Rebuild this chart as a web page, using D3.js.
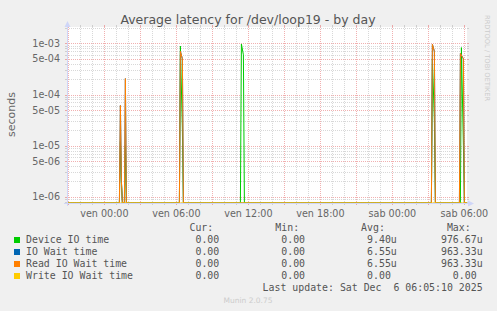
<!DOCTYPE html>
<html>
<head>
<meta charset="utf-8">
<script src="https://cdn.jsdelivr.net/npm/d3@7"></script>
<style>
  body { margin: 0; background: #f0f0f0; }
  svg { display: block; font-family: "DejaVu Sans", sans-serif; }
  .mono { font-family: "DejaVu Sans Mono", monospace; font-size: 9.9px; fill: #555; }
</style>
</head>
<body>
<svg id="chart" width="497" height="311"></svg>
<script>
// series, in munin draw order
var seriesNames = ["Device IO time", "IO Wait time", "Read IO Wait time", "Write IO Wait time"];
var seriesColors = ["#00cc00", "#0066b3", "#ff8000", "#ffcc00"];

var deviceIO = [
  ["2025-12-04 20:53", 0],
  ["2025-12-05 01:15", 0], ["2025-12-05 01:20", 1.2e-5], ["2025-12-05 01:25", 2e-6], ["2025-12-05 01:30", 0],
  ["2025-12-05 01:40", 0], ["2025-12-05 01:45", 1.0e-5], ["2025-12-05 01:50", 0],
  ["2025-12-05 06:15", 0], ["2025-12-05 06:20", 8.9e-4], ["2025-12-05 06:30", 2e-5], ["2025-12-05 06:35", 0],
  ["2025-12-05 11:20", 0], ["2025-12-05 11:25", 9.7667e-4], ["2025-12-05 11:35", 6e-4], ["2025-12-05 11:40", 0],
  ["2025-12-06 03:15", 0], ["2025-12-06 03:20", 5e-4], ["2025-12-06 03:30", 3e-5], ["2025-12-06 03:35", 0],
  ["2025-12-06 05:40", 0], ["2025-12-06 05:45", 8.3e-4], ["2025-12-06 05:55", 1e-5], ["2025-12-06 06:00", 0],
  ["2025-12-06 06:13", 0]
];
var ioWait = [
  ["2025-12-04 20:53", 0],
  ["2025-12-05 01:15", 0], ["2025-12-05 01:20", 6.1e-5], ["2025-12-05 01:25", 2e-6], ["2025-12-05 01:30", 0],
  ["2025-12-05 01:40", 0], ["2025-12-05 01:45", 2.05e-4], ["2025-12-05 01:50", 0],
  ["2025-12-05 06:15", 0], ["2025-12-05 06:20", 7.0e-4], ["2025-12-05 06:30", 5e-4], ["2025-12-05 06:35", 0],
  ["2025-12-06 03:15", 0], ["2025-12-06 03:20", 9.6333e-4], ["2025-12-06 03:30", 7e-4], ["2025-12-06 03:35", 0],
  ["2025-12-06 05:35", 0], ["2025-12-06 05:40", 6.4e-4], ["2025-12-06 05:55", 5e-4], ["2025-12-06 06:00", 0],
  ["2025-12-06 06:13", 0]
];
var readWait = [
  ["2025-12-04 20:53", 0],
  ["2025-12-05 01:15", 0], ["2025-12-05 01:20", 6.1e-5], ["2025-12-05 01:25", 2e-6], ["2025-12-05 01:30", 0],
  ["2025-12-05 01:40", 0], ["2025-12-05 01:45", 2.05e-4], ["2025-12-05 01:50", 0],
  ["2025-12-05 06:15", 0], ["2025-12-05 06:20", 7.0e-4], ["2025-12-05 06:30", 5e-4], ["2025-12-05 06:35", 0],
  ["2025-12-06 03:15", 0], ["2025-12-06 03:20", 9.6333e-4], ["2025-12-06 03:30", 7e-4], ["2025-12-06 03:35", 0],
  ["2025-12-06 05:35", 0], ["2025-12-06 05:40", 6.4e-4], ["2025-12-06 05:55", 5e-4], ["2025-12-06 06:00", 0],
  ["2025-12-06 06:13", 0]
];
var writeWait = [
  ["2025-12-04 20:53", 0],
  ["2025-12-06 06:13", 0]
];

var curValues = ["0.00 ", "0.00 ", "0.00 ", "0.00 "];
var minValues = ["0.00 ", "0.00 ", "0.00 ", "0.00 "];
var avgValues = ["9.40u", "6.55u", "6.55u", "0.00 "];
var maxValues = ["976.67u", "963.33u", "963.33u", "0.00 "];
var legendHeaders = ["Cur:", "Min:", "Avg:", "Max:"];

var yTickValues = [1e-3, 5e-4, 1e-4, 5e-5, 1e-5, 5e-6, 1e-6];
var yTickLabels = ["1e-03", "5e-04", "1e-04", "5e-05", "1e-05", "5e-06", "1e-06"];
var xTickTimes = ["2025-12-05 00:00", "2025-12-05 06:00", "2025-12-05 12:00",
                  "2025-12-05 18:00", "2025-12-06 00:00", "2025-12-06 06:00"];
var xTickLabels = ["ven 00:00", "ven 06:00", "ven 12:00", "ven 18:00", "sab 00:00", "sab 06:00"];

var parse = d3.timeParse("%Y-%m-%d %H:%M");
var nbsp = function (s) { return s.replace(/ /g, "\u00a0"); };
var svg = d3.select("#chart");
var plotLeft = 67, plotRight = 467, plotTop = 27, plotBottom = 203;

var x = d3.scaleTime()
  .domain([parse("2025-12-04 20:53"), parse("2025-12-06 06:13")])
  .range([plotLeft, plotRight]);
var yMin = 7.53e-7, yMax = 2.1e-3;
var y = d3.scaleLog().domain([yMin, yMax]).range([plotBottom, plotTop]).clamp(true);

svg.append("rect").attr("x", plotLeft).attr("y", plotTop)
  .attr("width", plotRight - plotLeft).attr("height", plotBottom - plotTop).attr("fill", "#fff");

// grid
var gridGray = "rgba(143,143,143,0.35)", gridRed = "rgba(224,80,80,0.45)";
var grid = svg.append("g").attr("shape-rendering", "crispEdges");
x.ticks(d3.timeHour.every(1)).forEach(function (t) {
  var major = t.getHours() % 3 === 0;
  var xx = Math.round(x(t)) + 0.5;
  var col = major ? gridRed : gridGray;
  grid.append("line").attr("x1", xx).attr("x2", xx).attr("y1", plotTop).attr("y2", plotBottom)
    .attr("stroke", col).attr("stroke-dasharray", "1,1");
  grid.append("line").attr("x1", xx).attr("x2", xx).attr("y1", plotTop - 2).attr("y2", plotTop).attr("stroke", col);
  grid.append("line").attr("x1", xx).attr("x2", xx).attr("y1", plotBottom).attr("y2", plotBottom + 2).attr("stroke", col);
});
for (var e = -7; e <= -3; e++) {
  for (var m = 1; m <= 9; m++) {
    var v = m * Math.pow(10, e);
    if (v < yMin || v > yMax) continue;
    var major = (m === 1 || m === 5);
    var yy = Math.round(y(v)) + 0.5;
    var col = major ? gridRed : gridGray;
    grid.append("line").attr("x1", plotLeft).attr("x2", plotRight).attr("y1", yy).attr("y2", yy)
      .attr("stroke", col).attr("stroke-dasharray", "1,1");
    grid.append("line").attr("x1", plotLeft - 2).attr("x2", plotLeft).attr("y1", yy).attr("y2", yy).attr("stroke", col);
    grid.append("line").attr("x1", plotRight).attr("x2", plotRight + 2).attr("y1", yy).attr("y2", yy).attr("stroke", col);
  }
}

// series lines
var line = d3.line()
  .x(function (d) { return x(parse(d[0])); })
  .y(function (d) { return y(Math.max(d[1], yMin)); });
[deviceIO, ioWait, readWait, writeWait].forEach(function (data, i) {
  svg.append("path").datum(data).attr("d", line)
    .attr("fill", "none").attr("stroke", seriesColors[i]).attr("stroke-width", 1);
});

// axes with arrows
var axisCol = "#cfd6f8";
svg.append("line").attr("x1", plotLeft - 3).attr("x2", plotRight + 3)
  .attr("y1", plotBottom + 0.5).attr("y2", plotBottom + 0.5).attr("stroke", axisCol);
svg.append("line").attr("x1", plotLeft + 0.5).attr("x2", plotLeft + 0.5)
  .attr("y1", plotBottom + 3).attr("y2", plotTop - 3).attr("stroke", axisCol);
svg.append("path").attr("d", "M" + (plotRight + 7) + "," + (plotBottom + 0.5) + "l-6,-3l0,6z").attr("fill", axisCol);
svg.append("path").attr("d", "M" + (plotLeft + 0.5) + "," + (plotTop - 6) + "l-3,6l6,0z").attr("fill", axisCol);

// tick labels
svg.append("g").selectAll("text").data(yTickValues).join("text")
  .attr("x", 60).attr("y", function (d) { return y(d); }).attr("dy", "0.38em")
  .attr("text-anchor", "end").attr("font-size", 9.6).attr("fill", "#666")
  .text(function (d, i) { return yTickLabels[i]; });
svg.append("g").selectAll("text").data(xTickTimes).join("text")
  .attr("x", function (d) { return x(parse(d)); }).attr("y", 216.7)
  .attr("text-anchor", "middle").attr("font-size", 9.6).attr("fill", "#666")
  .text(function (d, i) { return xTickLabels[i]; });

// titles
svg.append("text").attr("x", 248).attr("y", 24).attr("text-anchor", "middle")
  .attr("font-size", 12.5).attr("fill", "#555").text("Average latency for /dev/loop19 - by day");
svg.append("text").attr("transform", "translate(15,114.5) rotate(-90)").attr("text-anchor", "middle")
  .attr("font-size", 11).attr("fill", "#666").text("seconds");
svg.append("text").attr("transform", "translate(485,15) rotate(90)")
  .attr("font-size", 6.7).attr("fill", "#ccc").text("RRDTOOL / TOBI OETIKER");

// legend
var cw = 5.96;
var colEnd = [225.2, 311.0, 396.8, 482.6];
var columns = [curValues, minValues, avgValues, maxValues];
var legend = svg.append("g").attr("class", "mono");
legendHeaders.forEach(function (h, c) {
  legend.append("text").attr("x", colEnd[c] - 2 * cw).attr("y", 230.7).attr("text-anchor", "end").text(h);
});
seriesNames.forEach(function (name, i) {
  var by = 242.7 + i * 12;
  svg.append("rect").attr("x", 14).attr("y", by - 5.7).attr("width", 6).attr("height", 6)
    .attr("fill", seriesColors[i]);
  legend.append("text").attr("x", 26).attr("y", by).text(name);
  columns.forEach(function (col, c) {
    legend.append("text").attr("x", colEnd[c]).attr("y", by).attr("text-anchor", "end").text(nbsp(col[i]));
  });
});
legend.append("text").attr("x", colEnd[3]).attr("y", 290.7).attr("text-anchor", "end")
  .text(nbsp("Last update: Sat Dec  6 06:05:10 2025"));
svg.append("text").attr("x", 248).attr("y", 302.5).attr("text-anchor", "middle")
  .attr("font-size", 7.5).attr("fill", "#ccc").text("Munin 2.0.75");
</script>
</body>
</html>
